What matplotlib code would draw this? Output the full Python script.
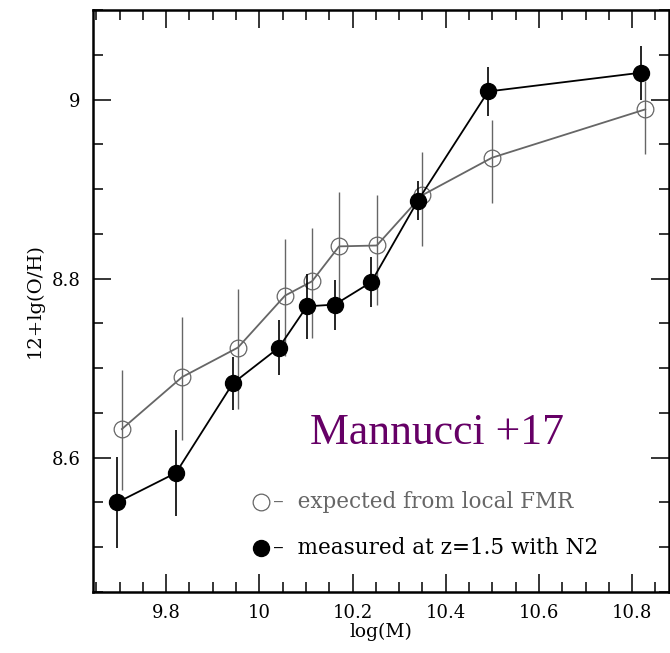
import numpy as np
import matplotlib
matplotlib.use("Agg")
import matplotlib.pyplot as plt
from matplotlib.ticker import MultipleLocator

# --- Data: metallicity vs stellar mass ---
# measured at z=1.5 with N2
mass_meas = [9.695, 9.821, 9.943, 10.042, 10.102, 10.162, 10.240, 10.340, 10.491, 10.819]
oh_meas = [8.550, 8.583, 8.683, 8.723, 8.769, 8.771, 8.796, 8.887, 9.009, 9.030]
err_meas = [0.051, 0.048, 0.030, 0.031, 0.036, 0.028, 0.028, 0.022, 0.027, 0.030]

# expected from local FMR
mass_fmr = [9.705, 9.834, 9.954, 10.055, 10.113, 10.171, 10.252, 10.349, 10.499, 10.828]
oh_fmr = [8.632, 8.690, 8.723, 8.781, 8.797, 8.836, 8.837, 8.893, 8.935, 8.989]
err_fmr_lo = [0.068, 0.070, 0.069, 0.067, 0.063, 0.067, 0.066, 0.057, 0.051, 0.050]
err_fmr_hi = [0.066, 0.067, 0.065, 0.063, 0.059, 0.061, 0.056, 0.048, 0.042, 0.032]

XTICKS = [9.8, 10.0, 10.2, 10.4, 10.6, 10.8]
XTICK_LABELS = ["9.8", "10", "10.2", "10.4", "10.6", "10.8"]
YTICKS = [8.6, 8.8, 9.0]
YTICK_LABELS = ["8.6", "8.8", "9"]

GRAY = "#666666"
PURPLE = "#660066"
SERIF = "DejaVu Serif"

fig = plt.figure(figsize=(6.70, 6.53), dpi=100)
ax = fig.add_axes([93 / 670, 1 - 592 / 653, 576 / 670, 582 / 653])

# expected (open grey circles)
ax.errorbar(mass_fmr, oh_fmr, yerr=[err_fmr_lo, err_fmr_hi], fmt="none",
            ecolor=GRAY, elinewidth=1.0, capsize=0, zorder=2)
ax.plot(mass_fmr, oh_fmr, "-", color=GRAY, lw=1.3, zorder=3)
ax.plot(mass_fmr, oh_fmr, "o", ms=12, mfc="none", mec=GRAY, mew=0.9, zorder=3)

# measured (filled black circles)
ax.errorbar(mass_meas, oh_meas, yerr=err_meas, fmt="none", ecolor="black",
            elinewidth=1.2, capsize=0, zorder=4)
ax.plot(mass_meas, oh_meas, "-", color="black", lw=1.3, zorder=5)
ax.plot(mass_meas, oh_meas, "o", ms=11.5, color="black", zorder=5)

ax.set_xlim(9.643, 10.879)
ax.set_ylim(8.45, 9.1)

ax.set_xticks(XTICKS)
ax.set_xticklabels(XTICK_LABELS)
ax.set_yticks(YTICKS)
ax.set_yticklabels(YTICK_LABELS)
ax.xaxis.set_minor_locator(MultipleLocator(0.05))
ax.yaxis.set_minor_locator(MultipleLocator(0.05))
ax.tick_params(which="both", direction="in", top=True, right=True,
               labelsize=13, width=1.1, colors="black")
ax.tick_params(which="major", length=13, pad=9)
ax.tick_params(which="minor", length=7)
for lab in ax.get_xticklabels() + ax.get_yticklabels():
    lab.set_family(SERIF)
for sp in ax.spines.values():
    sp.set_linewidth(1.8)

ax.set_xlabel("log(M)", family=SERIF, fontsize=13.5, labelpad=0)
ax.set_ylabel("12+lg(O/H)", family=SERIF, fontsize=14, labelpad=6)

# label and legend drawn inside the axes
ax.text(10.381, 8.628, "Mannucci +17", family="Liberation Serif", fontsize=31.5,
        color=PURPLE, ha="center", va="center")

ax.plot([10.003], [8.551], "o", ms=12, mfc="none", mec=GRAY, mew=0.9,
        clip_on=False)
ax.text(10.029, 8.551, "–  expected from local FMR", family=SERIF,
        fontsize=15.5, color=GRAY, ha="left", va="center")
ax.plot([10.003], [8.4994], "o", ms=11.5, color="black", clip_on=False)
ax.text(10.029, 8.4994, "–  measured at z=1.5 with N2", family=SERIF,
        fontsize=15.5, color="black", ha="left", va="center")

fig.savefig("out.png", dpi=100)
